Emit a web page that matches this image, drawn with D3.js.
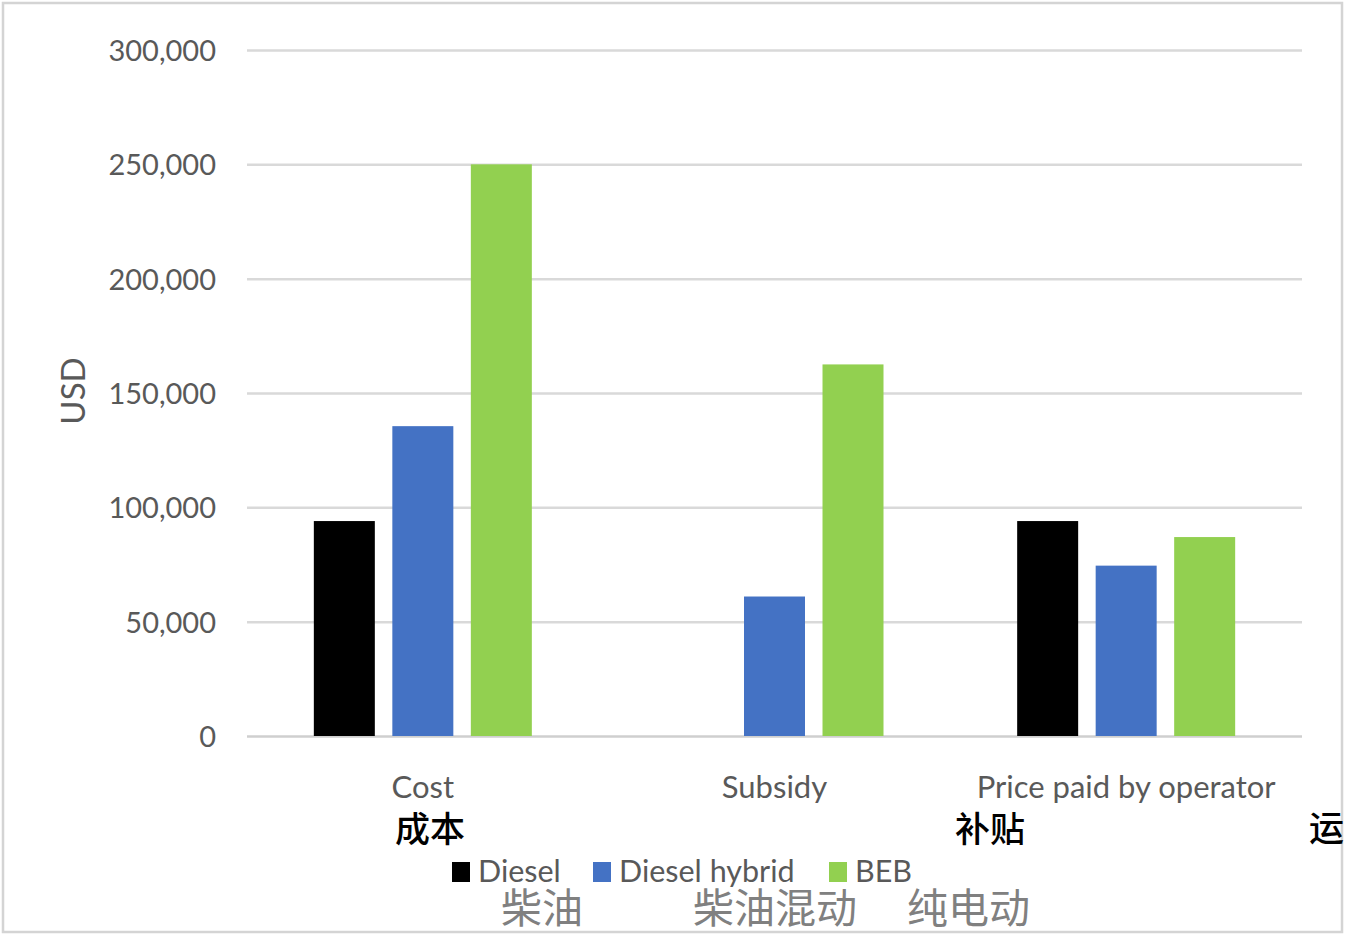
<!DOCTYPE html>
<html>
<head>
<meta charset="utf-8">
<script src="https://cdn.jsdelivr.net/npm/d3@7"></script>
<style>
  html, body { margin: 0; padding: 0; background: #fff; }
  svg { display: block; }
  .lat { font-family: Lato, "Open Sans", sans-serif; }
  .cjk { font-family: "Noto Sans CJK SC", sans-serif; }
</style>
</head>
<body>
<svg id="chart" width="1345" height="935"></svg>
<script>
// Bus purchase economics, USD per vehicle
const categories = ["Cost", "Subsidy", "Price paid by operator"];
const seriesNames = ["Diesel", "Diesel hybrid", "BEB"];
const dieselValues = [94000, 0, 94000];
const hybridValues = [135500, 61000, 74500];
const bebValues = [250000, 162500, 87000];
const yTicks = [0, 50000, 100000, 150000, 200000, 250000, 300000];
const seriesColors = ["#000000", "#4472C4", "#92D050"];

// Chinese glosses printed over the chart
const categoryNotes = [
  { text: "成本", x: 395, y: 826 },
  { text: "补贴", x: 955, y: 826 },
  { text: "运", x: 1309, y: 825 }
];
const seriesNotes = [
  { text: "柴油", x: 501, y: 905 },
  { text: "柴油混动", x: 693, y: 905 },
  { text: "纯电动", x: 907, y: 905 }
];

const seriesValues = [dieselValues, hybridValues, bebValues];
const rows = categories.map((c, i) => ({
  category: c,
  values: seriesNames.map((s, j) => ({ series: s, value: seriesValues[j][i], color: seriesColors[j] }))
}));

const svg = d3.select("#chart");

// outer frame
svg.append("rect")
  .attr("x", 3).attr("y", 3).attr("width", 1339).attr("height", 929)
  .attr("fill", "none").attr("stroke", "#d4d4d4").attr("stroke-width", 2.5);

const plot = { left: 247, right: 1302, top: 50, bottom: 736 };

const y = d3.scaleLinear().domain([0, 300000]).range([plot.bottom, plot.top]);
const x0 = d3.scaleBand().domain(categories).range([plot.left, plot.right]).padding(0);
const half = x0.bandwidth() / 2;
const x1 = d3.scaleBand().domain(seriesNames).range([half - 109, half + 109]).paddingInner(0.223).paddingOuter(0);

// gridlines + tick labels
const yAxis = d3.axisLeft(y)
  .tickValues(yTicks)
  .tickSize(-(plot.right - plot.left))
  .tickPadding(31)
  .tickFormat(d3.format(","));

const gAxis = svg.append("g")
  .attr("transform", `translate(${plot.left},0)`)
  .call(yAxis);
gAxis.select(".domain").remove();
gAxis.selectAll(".tick line")
  .attr("stroke", d => d === 0 ? "#cfcfcf" : "#d9d9d9")
  .attr("stroke-width", 2.5);
gAxis.selectAll(".tick text")
  .attr("class", "lat")
  .attr("fill", "#595959")
  .attr("font-size", 29)
  .attr("dy", "0.36em");

// y axis title
svg.append("text")
  .attr("class", "lat")
  .attr("transform", "translate(85,391) rotate(-90)")
  .attr("text-anchor", "middle")
  .attr("font-size", 33)
  .attr("fill", "#595959")
  .text("USD");

// bars
const groups = svg.append("g").selectAll("g")
  .data(rows)
  .join("g")
  .attr("transform", d => `translate(${x0(d.category)},0)`);

groups.selectAll("rect")
  .data(d => d.values)
  .join("rect")
  .attr("x", d => x1(d.series))
  .attr("width", x1.bandwidth())
  .attr("y", d => y(d.value))
  .attr("height", d => y(0) - y(d.value))
  .attr("fill", d => d.color);

// category labels
svg.append("g").selectAll("text")
  .data(categories)
  .join("text")
  .attr("class", "lat")
  .attr("x", d => x0(d) + half)
  .attr("y", 798)
  .attr("text-anchor", "middle")
  .attr("font-size", 31)
  .attr("fill", "#595959")
  .text(d => d);

// legend
const legendItems = [
  { name: seriesNames[0], color: seriesColors[0], x: 452 },
  { name: seriesNames[1], color: seriesColors[1], x: 593 },
  { name: seriesNames[2], color: seriesColors[2], x: 829 }
];
const legend = svg.append("g").selectAll("g")
  .data(legendItems)
  .join("g")
  .attr("transform", d => `translate(${d.x},862)`);
legend.append("rect")
  .attr("width", 18).attr("height", 20)
  .attr("fill", d => d.color);
legend.append("text")
  .attr("class", "lat")
  .attr("x", 26)
  .attr("y", 20)
  .attr("font-size", 30.5)
  .attr("fill", "#595959")
  .text(d => d.name);

// Chinese annotations
svg.append("g").selectAll("text")
  .data(categoryNotes)
  .join("text")
  .attr("class", "cjk")
  .attr("x", d => d.x).attr("y", d => d.y)
  .attr("dominant-baseline", "central")
  .attr("font-size", 35)
  .attr("font-weight", 500)
  .attr("fill", "#000")
  .text(d => d.text);

svg.append("g").selectAll("text")
  .data(seriesNotes)
  .join("text")
  .attr("class", "cjk")
  .attr("x", d => d.x).attr("y", d => d.y)
  .attr("dominant-baseline", "central")
  .attr("font-size", 41)
  .attr("font-weight", 400)
  .attr("fill", "#808080")
  .text(d => d.text);
</script>
</body>
</html>
